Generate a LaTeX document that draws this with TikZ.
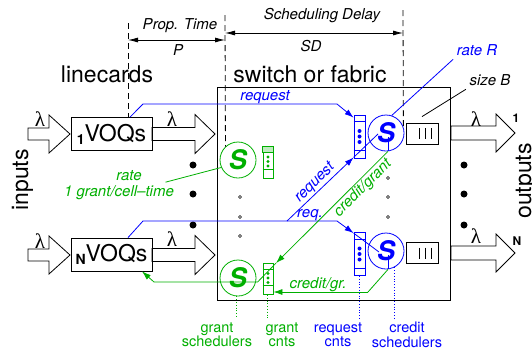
\documentclass[tikz,border=0pt]{standalone}
\usepackage{fontspec}
\setmainfont{TeX Gyre Heros}
\newfontfamily\lamfont{Liberation Serif}
\usetikzlibrary{arrows.meta}
\definecolor{grn}{RGB}{0,175,0}
\newcommand{\voqidx}[1]{\raisebox{-3pt}{\fontsize{14pt}{14pt}\selectfont\bfseries #1}}
\tikzset{
  big/.style={font={\fontsize{23pt}{23pt}\selectfont}},
  lbl/.style={font={\fontsize{15pt}{15pt}\selectfont\itshape}},
  lam/.style={font={\fontsize{21pt}{21pt}\selectfont\lamfont}},
  foot/.style={font={\fontsize{14.5pt}{14.5pt}\selectfont}, align=center, inner sep=1pt},
  voq/.style={draw, minimum width=81pt, minimum height=33pt, inner sep=0pt, big},
  sched/.style={draw, circle, minimum size=36pt, inner sep=0pt,
    font={\fontsize{27pt}{27pt}\selectfont\bfseries\itshape}},
  cnt/.style={draw, inner sep=0pt},
  buf/.style={draw, minimum width=32pt, minimum height=21pt, inner sep=0pt},
  fat/.style={draw, fill=white, line join=miter},
  arr/.style={-{Latex[length=9pt,width=6pt]}},
  dimarr/.style={{Latex[length=10pt,width=5pt]}-{Latex[length=10pt,width=5pt]}},
  guide/.style={dash pattern=on 6pt off 4pt},
}
\begin{document}
\begin{tikzpicture}[x=1pt, y=-1pt, line width=0.8pt]
\useasboundingbox (0,0) rectangle (532,349);

%switch
\node[draw, line width=1pt, minimum width=233pt, minimum height=213pt, inner sep=0pt] (sw) at (333.5,193.5) {};
\node[big, anchor=base] (swl) at (310,82) {switch or fabric};
\node[big, anchor=base] (lc) at (107,82) {linecards};
\node[big, rotate=90, anchor=base] (inl) at (28,180) {inputs};
\node[big, rotate=90, anchor=base] (outl) at (531,181) {outputs};

%fat arrows
\foreach \y in {134,255} {
  \draw[fat] (28,\y-6) -- (49,\y-6) -- (49,\y-19) -- (70,\y) -- (49,\y+19) -- (49,\y+6) -- (28,\y+6) -- cycle;
  \draw[fat] (152,\y-6.5) -- (195,\y-6.5) -- (195,\y-19.5) -- (215,\y) -- (195,\y+19.5) -- (195,\y+6.5) -- (152,\y+6.5) -- cycle;
}
\foreach \y in {133,253}
  \draw[fat] (451,\y-7) -- (496,\y-7) -- (496,\y-19) -- (515,\y) -- (496,\y+19) -- (496,\y+7) -- (451,\y+7) -- cycle;

%linecards
\node[voq] (voq1) at (111.5,134) {\voqidx{1}VOQs};
\node[voq] (voqN) at (111.5,254.5) {\voqidx{N}VOQs};

%rates
\node[lam] (l1in) at (40,119) {λ};
\node[lam] (l1voq) at (172,119) {λ};
\node[lam] (l1out) at (476,119) {λ};
\node[lam] (lNin) at (40,241) {λ};
\node[lam] (lNvoq) at (172,239) {λ};
\node[lam] (lNout) at (476,236) {λ};
\node[font={\fontsize{12pt}{12pt}\selectfont\bfseries}] (o1) at (516,118) {1};
\node[font={\fontsize{12pt}{12pt}\selectfont\bfseries}] (oN) at (517,241) {N};

%dots
\foreach \y in {165,194,225} {
  \fill (193,\y) circle (3.5pt);
  \fill (464,\y) circle (3.5pt);
}
\foreach \y in {197,217,236}
  \draw[line width=0.6pt] (240,\y) circle (1.5pt);
\foreach \y in {178,197,217}
  \draw[line width=0.6pt] (388,\y) circle (1.5pt);

%schedulers
\node[sched, blue] (cs1) at (386,133) {S};
\node[sched, blue] (csN) at (386,251) {S};
\node[sched, grn] (gs1) at (238,160) {S};
\node[sched, grn] (gsN) at (238,278) {S};

%counters
\node[cnt, blue, minimum width=11pt, minimum height=43pt] (rc1) at (359.5,136.5) {};
\node[cnt, blue, minimum width=11pt, minimum height=43pt] (rcN) at (359.5,254) {};
\node[cnt, grn, minimum width=10pt, minimum height=31pt] (gc1) at (268,162.5) {};
\node[cnt, grn, minimum width=10pt, minimum height=31pt] (gcN) at (268,279) {};
\foreach \c in {rc1,rcN} {
  \draw[blue] ([yshift=-7pt]\c.north west) -- ([yshift=-7pt]\c.north east);
  \draw[blue] ([yshift=8pt]\c.south west) -- ([yshift=8pt]\c.south east);
  \foreach \d in {-5.5,0,5.5}
    \fill[blue] ([yshift=\d pt]\c.center) circle (2pt);
}
\filldraw[grn, fill=grn!25] (gc1.north west) rectangle ([yshift=-6pt]gc1.north east);
\draw[grn] ([yshift=-6pt]gcN.north west) -- ([yshift=-6pt]gcN.north east);
\foreach \c in {gc1,gcN} {
  \draw[grn] ([yshift=9.5pt]\c.south west) -- ([yshift=9.5pt]\c.south east);
  \foreach \d in {-3.5,1,5.5}
    \fill[grn] ([yshift=\d pt]\c.center) circle (1.6pt);
}

%output buffers
\node[buf] (b1) at (422,133.5) {};
\node[buf] (bN) at (422,253) {};
\foreach \b in {b1,bN}
  \foreach \dx in {-3,3,9}
    \draw ([xshift=\dx pt, yshift=5.5pt]\b.center) -- ([xshift=\dx pt, yshift=-5.5pt]\b.center);

%delays
\coordinate (g1) at (128,23);
\coordinate (g2) at (225,15);
\coordinate (g3) at (403,10);
\draw[guide] (g1) -- (g1 |- voq1.north);
\draw[guide] (g2) -- (gs1.133);
\draw[guide] (g3) -- (cs1.19);
\coordinate (p1) at (128,40);
\coordinate (p2) at (225,40);
\coordinate (s1) at (225,33);
\coordinate (s2) at (403,33);
\draw[dimarr] (p1) -- (p2);
\draw[dimarr] (s1) -- (s2);
\node[lbl] (ptl) at (180,26) {Prop. Time};
\node[lbl] (pl) at (178,50) {P};
\node[lbl] (sdl) at (322,16) {Scheduling Delay};
\node[lbl] (sl) at (311,46) {SD};

%requests
\coordinate (rq1a) at (143,104);
\coordinate (rq1b) at (337,104);
\coordinate (rq2a) at (143,221);
\coordinate (rq2b) at (337,221);
\coordinate (rq3) at (287,221);
\draw[blue, arr] ([xshift=18.5pt]voq1.north) -- (rq1a) -- (rq1b) -- ([yshift=-3pt]rc1.north west);
\draw[blue] ([xshift=16.5pt]voqN.north) -- (rq2a) -- (rq2b);
\draw[blue, arr] (rq2b) -- ([yshift=-1pt]rcN.north west);
\draw[blue] ([yshift=-1pt]rcN.north west) -- (379,252);
\draw[blue, arr] (rq3) -- ([yshift=1pt]rc1.south west);
\draw[blue] ([yshift=1pt]rc1.south west) -- (378,134);
\node[lbl, blue] (rql1) at (265,97) {request};
\node[lbl, blue] (rql2) at (310,215) {req.};
\node[lbl, blue, rotate=45] (rql3) at (315,183) {request};

%credits and grants
\draw[blue] ([xshift=2pt, yshift=-4pt]cs1.center) -- ([xshift=2pt]cs1.south);
\draw[blue] ([xshift=2pt, yshift=-4pt]csN.center) -- ([xshift=2pt]csN.south);
\coordinate (cg2) at (257.6,282);
\coordinate (cg3) at (154,282);
\coordinate (cg4) at (368,292);
\draw[grn, arr] ([xshift=2pt]cs1.south) -- ([xshift=8pt]gcN.north);
\draw[grn] ([xshift=8pt]gcN.north) -- (cg2) -- (cg3);
\draw[grn, arr] (cg3) -- ([xshift=30.5pt]voqN.south);
\draw[grn] ([xshift=2pt]csN.south) -- (cg4);
\draw[grn, arr] (cg4) -- (gcN.east |- cg4);
\node[lbl, grn, rotate=45] (cgl1) at (363,188) {credit/grant};
\node[lbl, grn] (cgl2) at (318,285) {credit/gr.};

%rate and size
\node[lbl, blue] (ratel) at (477,50) {rate R};
\draw[blue] (ratel.south west) -- (cs1.72);
\node[lbl] (sizel) at (490,80) {size B};
\draw (sizel.south west) -- ([yshift=6pt]b1.north);
\node[lbl, grn] (gr1) at (129,176) {rate};
\node[lbl, grn] (gr2) at (119,193) {1 grant/cell--time};
\draw[grn] ([xshift=-12pt]gr2.north east) -- (gs1.204);

%labels
\node[foot, grn] (gsl) at (217,335) {grant\\schedulers};
\node[foot, grn] (gcl) at (282,335) {grant\\cnts};
\node[foot, blue] (rcl) at (338,335) {request\\cnts};
\node[foot, blue] (csl) at (407,335) {credit\\schedulers};
\draw[grn, dotted] ([xshift=-2pt]gsN.south) -- ++(0,20);
\draw[grn, dotted] ([xshift=-1pt]gcN.south) -- ++(0,23);
\draw[blue, dotted] ([xshift=-0.5pt]rcN.south) -- ++(0,42.5);
\draw[blue, dotted] (csN.-63) -- (csN.-63 |- 0,318);
\end{tikzpicture}
\end{document}
